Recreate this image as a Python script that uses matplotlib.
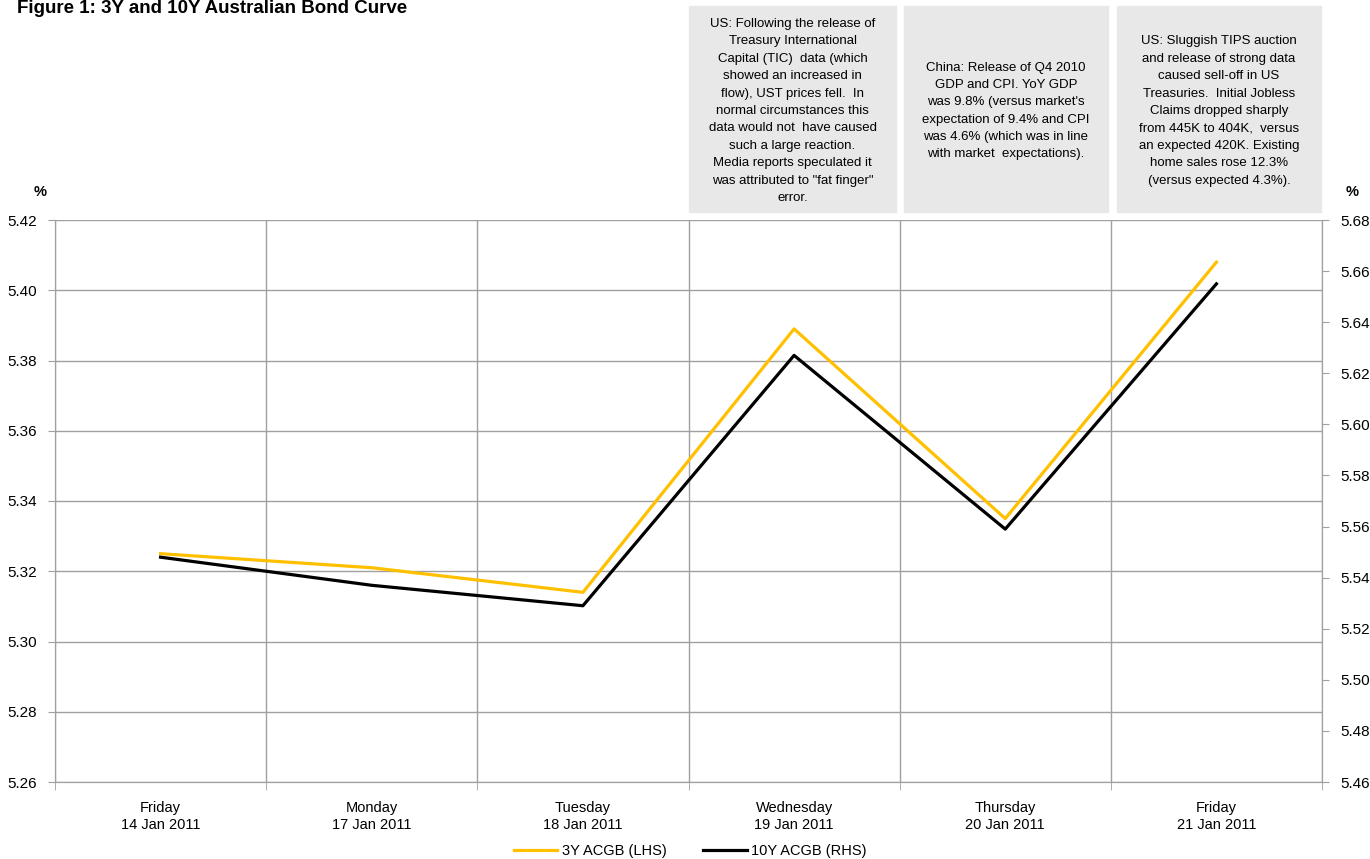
#!/usr/bin/env python3
"""3Y and 10Y Australian bond curve, week of 14-21 Jan 2011."""
import numpy as np
import matplotlib
matplotlib.use("Agg")
import matplotlib.pyplot as plt
from matplotlib.ticker import FixedLocator, FormatStrFormatter

plt.rcParams["font.family"] = ["Liberation Sans", "DejaVu Sans"]

days = ["Friday\n14 Jan 2011", "Monday\n17 Jan 2011", "Tuesday\n18 Jan 2011",
        "Wednesday\n19 Jan 2011", "Thursday\n20 Jan 2011", "Friday\n21 Jan 2011"]
y3 = [5.325, 5.321, 5.314, 5.389, 5.335, 5.408]
y10 = [5.548, 5.537, 5.529, 5.627, 5.559, 5.655]
left_ticks = [5.26, 5.28, 5.30, 5.32, 5.34, 5.36, 5.38, 5.40, 5.42]
right_ticks = [5.46, 5.48, 5.50, 5.52, 5.54, 5.56, 5.58, 5.60, 5.62, 5.64, 5.66, 5.68]

notes = [
    "US: Following the release of\nTreasury International\nCapital (TIC)  data (which\n"
    "showed an increased in\nflow), UST prices fell.  In\nnormal circumstances this\n"
    "data would not  have caused\nsuch a large reaction.\nMedia reports speculated it\n"
    "was attributed to \"fat finger\"\nerror.",
    "China: Release of Q4 2010\nGDP and CPI. YoY GDP\nwas 9.8% (versus market's\n"
    "expectation of 9.4% and CPI\nwas 4.6% (which was in line\nwith market  expectations).",
    "US: Sluggish TIPS auction\nand release of strong data\ncaused sell-off in US\n"
    "Treasuries.  Initial Jobless\nClaims dropped sharply\nfrom 445K to 404K,  versus\n"
    "an expected 420K. Existing\nhome sales rose 12.3%\n(versus expected 4.3%).",
]

W, H = 1370, 859
fig = plt.figure(figsize=(W / 100, H / 100), dpi=100)
ax = fig.add_axes([55 / W, 1 - 782 / H, (1322 - 55) / W, (782 - 220) / H])
ax2 = ax.twinx()

x = np.arange(len(days))
grid_c = "#a0a0a0"
ax.plot(x, y3, color="#FFC000", lw=2.3, label="3Y ACGB (LHS)", zorder=3)
ax2.plot(x, y10, color="black", lw=2.3, label="10Y ACGB (RHS)", zorder=3)

ax.set_xlim(-0.5, len(days) - 0.5)
ax.set_ylim(5.26, 5.42)
ax2.set_ylim(5.46, 5.68)
ax.yaxis.set_major_locator(FixedLocator(left_ticks))
ax2.yaxis.set_major_locator(FixedLocator(right_ticks))
ax.yaxis.set_major_formatter(FormatStrFormatter("%.2f"))
ax2.yaxis.set_major_formatter(FormatStrFormatter("%.2f"))

ax.set_xticks(x)
ax.set_xticklabels(days, fontsize=10.5)
ax.set_xticks(np.arange(-0.5, len(days)), minor=True)
ax.tick_params(axis="x", which="major", length=0, pad=14)
ax.tick_params(axis="x", which="minor", length=6, color=grid_c)
ax.grid(True, axis="y", which="major", color=grid_c, lw=1)
ax.grid(True, axis="x", which="minor", color=grid_c, lw=1)
ax.tick_params(axis="y", length=5, color=grid_c, labelsize=11, pad=8)
ax2.tick_params(axis="y", length=5, color=grid_c, labelsize=11, pad=8)
for a in (ax, ax2):
    for s in a.spines.values():
        s.set_color(grid_c)
    a.spines["top"].set_visible(False)
ax.set_axisbelow(True)

fig.text(40 / W, 1 - 192 / H, "%", fontsize=10.5, fontweight="bold", ha="center", va="center")
fig.text(1352 / W, 1 - 192 / H, "%", fontsize=10.5, fontweight="bold", ha="center", va="center")
fig.text(17 / W, 1 - 13 / H, "Figure 1: 3Y and 10Y Australian Bond Curve",
         fontsize=13.5, fontweight="bold", ha="left", va="baseline")

boxes = [(689, 896), (904, 1108), (1117, 1321)]
for (x0, x1), note in zip(boxes, notes):
    fig.patches.append(plt.Rectangle((x0 / W, 1 - 212 / H), (x1 - x0) / W, 206 / H,
                                     transform=fig.transFigure, color="#e8e8e8", zorder=0))
    fig.text((x0 + x1) / 2 / W, 1 - 111 / H, note, fontsize=9.5, ha="center",
             va="center", linespacing=1.6)

h1, l1 = ax.get_legend_handles_labels()
h2, l2 = ax2.get_legend_handles_labels()
fig.legend(h1 + h2, l1 + l2, loc="center", bbox_to_anchor=(690 / W, 1 - 851 / H), ncol=2,
           frameon=False, fontsize=10.5, handlelength=3, handletextpad=0.3, columnspacing=2.5)

fig.savefig("out.png", dpi=100)
